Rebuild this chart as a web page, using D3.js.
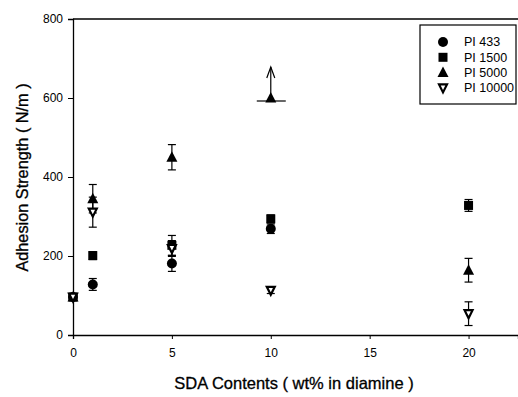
<!DOCTYPE html>
<html>
<head>
<meta charset="utf-8">
<script src="https://cdn.jsdelivr.net/npm/d3@7"></script>
<style>
body { margin: 0; background: #fff; }
svg { font-family: "Liberation Sans", Arial, sans-serif; }
</style>
</head>
<body>
<svg width="518" height="397"></svg>
<script>
// data
var series = ["PI 433", "PI 1500", "PI 5000", "PI 10000"];
var symbols = ["circle", "square", "triangle", "down"];
var xs433 = [0, 1, 5, 10];
var y433 = [96, 128, 181, 269];
var e433 = [0, 15, 20, 12];
var xs1500 = [0, 1, 5, 10, 20];
var y1500 = [96, 201, 227, 294, 328];
var e1500 = [0, 10, 25, 10, 15];
var xs5000 = [0, 1, 5, 10, 20];
var y5000 = [96, 345, 450, 600, 164];
var e5000 = [0, 36, 32, 0, 30];
var xs10000 = [0, 1, 5, 10, 20];
var y10000 = [96, 311, 219, 113, 54];
var e10000 = [0, 38, 20, 8, 30];
var xTicks = [0, 5, 10, 15, 20];
var yTicks = [0, 200, 400, 600, 800];

var svg = d3.select("svg"),
  margin = {top: 19, right: 0, bottom: 62, left: 73},
  width = +svg.attr("width") - margin.left - margin.right,
  height = +svg.attr("height") - margin.top - margin.bottom,
  g = svg.append("g").attr("transform", "translate(" + margin.left + "," + margin.top + ")");

var x = d3.scaleLinear().domain([0, 22.5]).range([0, width]);
var y = d3.scaleLinear().domain([0, 800]).range([height, 0]);

var groups = [
  {name: series[0], sym: symbols[0], xs: xs433, ys: y433, es: e433},
  {name: series[1], sym: symbols[1], xs: xs1500, ys: y1500, es: e1500},
  {name: series[2], sym: symbols[2], xs: xs5000, ys: y5000, es: e5000},
  {name: series[3], sym: symbols[3], xs: xs10000, ys: y10000, es: e10000}
];

function drawSymbol(sel, sym, cx, cy) {
  if (sym == "circle") {
    sel.append("circle").attr("cx", cx).attr("cy", cy).attr("r", 5).attr("fill", "#000");
  } else if (sym == "square") {
    sel.append("rect").attr("x", cx - 4.5).attr("y", cy - 4.5).attr("width", 9).attr("height", 9).attr("fill", "#000");
  } else if (sym == "triangle") {
    sel.append("path").attr("d", "M" + cx + "," + (cy - 6) + "L" + (cx + 5.5) + "," + (cy + 4.5) + "L" + (cx - 5.5) + "," + (cy + 4.5) + "Z").attr("fill", "#000");
  } else {
    sel.append("path").attr("d", "M" + (cx - 4) + "," + (cy - 3.5) + "L" + (cx + 4) + "," + (cy - 3.5) + "L" + cx + "," + (cy + 4.5) + "Z")
      .attr("fill", "#fff").attr("stroke", "#000").attr("stroke-width", 2.2);
  }
}

// axes
g.append("g")
  .attr("transform", "translate(0," + height + ")")
  .call(d3.axisBottom(x).tickValues(xTicks).tickSize(4).tickPadding(9))
  .call(function(a) {
    a.select(".domain").attr("stroke-width", 1.3);
    a.selectAll("text").attr("font-size", 12).attr("fill", "#000").attr("font-family", "Liberation Sans, Arial, sans-serif");
  });

g.append("g")
  .call(d3.axisLeft(y).tickValues(yTicks).tickSize(5).tickPadding(5))
  .call(function(a) {
    a.select(".domain").attr("stroke-width", 1.3);
    a.selectAll("text").attr("font-size", 12).attr("fill", "#000").attr("font-family", "Liberation Sans, Arial, sans-serif");
  });

// top frame line
g.append("line").attr("x1", 0).attr("x2", width).attr("y1", 0).attr("y2", 0).attr("stroke", "#000").attr("stroke-width", 1.3);

// error bars + markers
groups.forEach(function(s) {
  var sg = g.append("g");
  s.xs.forEach(function(xv, i) {
    var cx = x(xv), cy = y(s.ys[i]), e = s.es[i];
    if (e > 0) {
      var y1 = y(s.ys[i] + e), y2 = y(s.ys[i] - e);
      sg.append("line").attr("x1", cx).attr("x2", cx).attr("y1", y1).attr("y2", y2).attr("stroke", "#000").attr("stroke-width", 1.2);
      sg.append("line").attr("x1", cx - 4).attr("x2", cx + 4).attr("y1", y1).attr("y2", y1).attr("stroke", "#000").attr("stroke-width", 1.2);
      sg.append("line").attr("x1", cx - 4).attr("x2", cx + 4).attr("y1", y2).attr("y2", y2).attr("stroke", "#000").attr("stroke-width", 1.2);
    }
    drawSymbol(sg, s.sym, cx, cy);
  });
});

// off-scale arrow for PI 5000 at 10 wt%
var ax = x(10), ay = y(600);
g.append("line").attr("x1", ax - 14).attr("x2", ax + 15).attr("y1", ay + 3).attr("y2", ay + 3).attr("stroke", "#000").attr("stroke-width", 1.2);
g.append("line").attr("x1", ax).attr("x2", ax).attr("y1", ay).attr("y2", ay - 31).attr("stroke", "#000").attr("stroke-width", 1.2);
g.append("path").attr("d", "M" + (ax - 4) + "," + (ay - 20) + "L" + ax + "," + (ay - 31) + "L" + (ax + 4) + "," + (ay - 20))
  .attr("fill", "none").attr("stroke", "#000").attr("stroke-width", 1.2);

// axis titles
svg.append("text")
  .attr("x", 294).attr("y", 389)
  .attr("text-anchor", "middle")
  .attr("font-size", 16.5)
  .attr("stroke", "#000").attr("stroke-width", 0.3)
  .text("SDA Contents ( wt% in diamine )");

svg.append("text")
  .attr("transform", "translate(28,177.5) rotate(-90)")
  .attr("text-anchor", "middle")
  .attr("font-size", 16.3)
  .attr("stroke", "#000").attr("stroke-width", 0.3)
  .text("Adhesion Strength ( N/m )");

// legend
var lg = svg.append("g");
lg.append("rect").attr("x", 420).attr("y", 25).attr("width", 96).attr("height", 79)
  .attr("fill", "#fff").attr("stroke", "#000").attr("stroke-width", 1.2);
groups.forEach(function(s, i) {
  var yy = 42 + i * 15.3;
  drawSymbol(lg, s.sym, 443, yy);
  lg.append("text").attr("x", 464).attr("y", yy).attr("dy", "0.35em").attr("font-size", 12.5).text(s.name);
});
</script>
</body>
</html>
